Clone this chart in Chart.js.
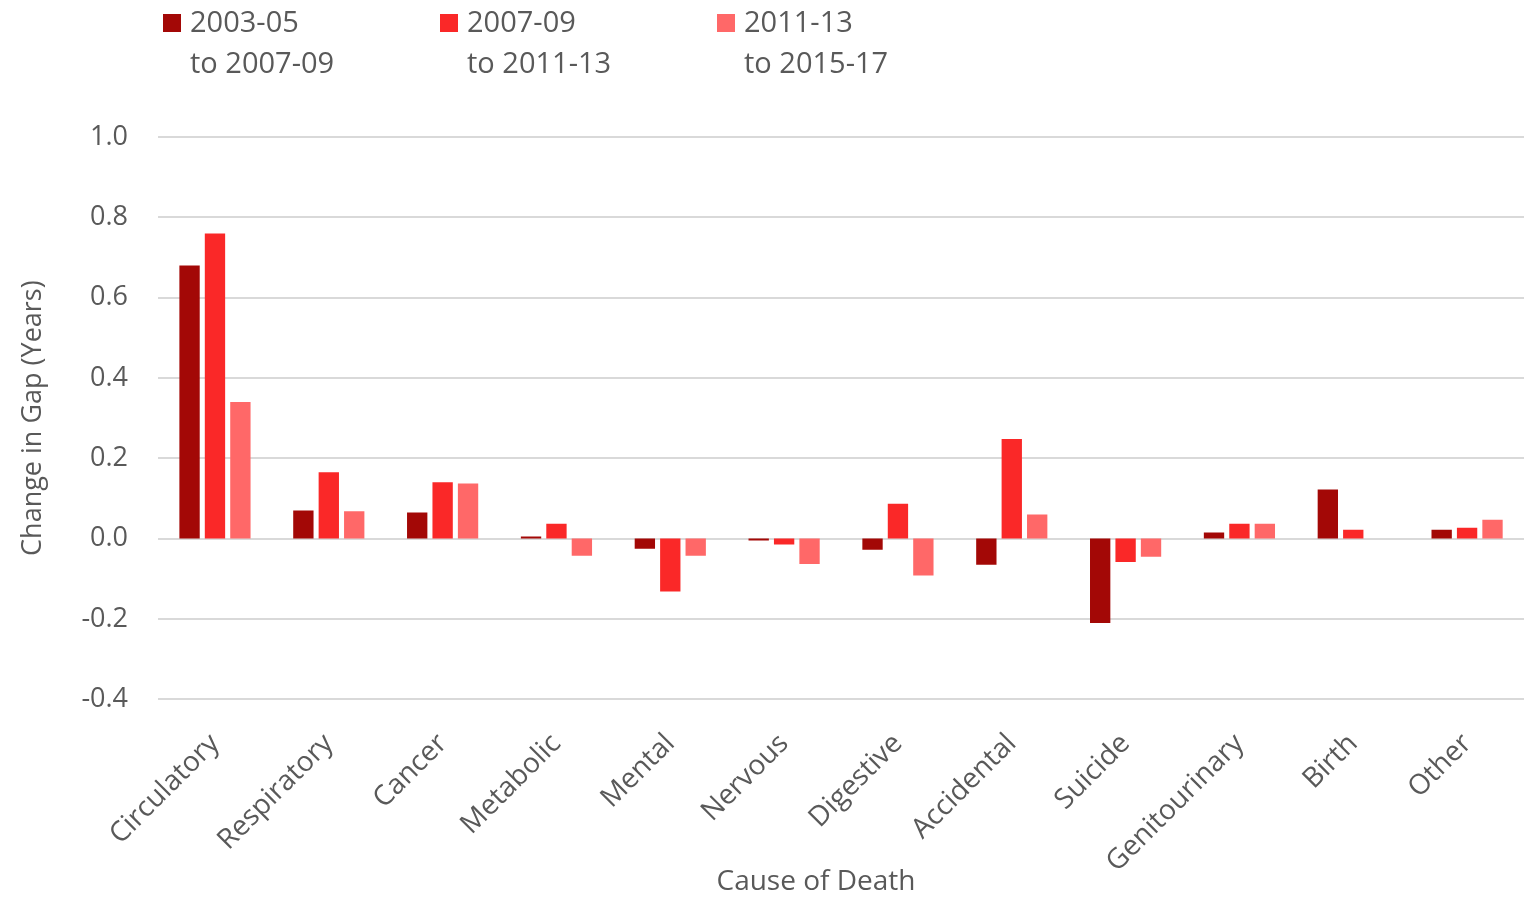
<!DOCTYPE html>
<html>
<head>
<meta charset="utf-8">
<script src="https://cdn.jsdelivr.net/npm/chart.js@4"></script>
<style>
  html, body { margin: 0; padding: 0; background: #fff; }
  #wrap { position: relative; width: 1524px; height: 899px; }
  #legend { position: absolute; top: 0px; left: 163px; font-family: "Open Sans", sans-serif; font-size: 29px; color: #595959; line-height: 41px; }
  .item { position: absolute; top: 0; white-space: nowrap; }
  .sw { display: inline-block; width: 18px; height: 18px; margin-right: 9px; vertical-align: 0px; }
  .l2 { padding-left: 27px; }
  #xtitle { position: absolute; left: 0; width: 1632px; top: 860px; text-align: center; font-family: "Open Sans", sans-serif; font-size: 28px; color: #595959; }
</style>
</head>
<body>
<div id="wrap">
  <canvas id="gapChart" width="1524" height="899"></canvas>
  <div id="legend"></div>
  <div id="xtitle">Cause of Death</div>
</div>
<script>
// Data
const categories = ['Circulatory', 'Respiratory', 'Cancer', 'Metabolic', 'Mental', 'Nervous',
                    'Digestive', 'Accidental', 'Suicide', 'Genitourinary', 'Birth', 'Other'];
const period1 = [0.68, 0.07, 0.065, 0.005, -0.025, -0.005, -0.028, -0.065, -0.21, 0.015, 0.122, 0.022];
const period2 = [0.76, 0.165, 0.14, 0.037, -0.132, -0.015, 0.087, 0.248, -0.058, 0.037, 0.022, 0.027];
const period3 = [0.34, 0.068, 0.137, -0.043, -0.043, -0.063, -0.092, 0.06, -0.045, 0.037, 0, 0.047];
const seriesLabels = [['2003-05', 'to 2007-09'], ['2007-09', 'to 2011-13'], ['2011-13', 'to 2015-17']];
const colors = ['#a30806', '#fa2828', '#ff6868'];

const textColor = '#595959';
const font = 'Open Sans';

// Legend (two-line labels)
const legend = document.getElementById('legend');
seriesLabels.forEach((lbl, i) => {
    const div = document.createElement('div');
    div.className = 'item';
    div.style.left = (i * 277) + 'px';
    div.innerHTML = `<div><span class="sw" style="background:${colors[i]}"></span>${lbl[0]}</div>` +
                    `<div class="l2">${lbl[1]}</div>`;
    legend.appendChild(div);
});

const ctx = document.getElementById('gapChart').getContext('2d');
new Chart(ctx, {
    type: 'bar',
    data: {
        labels: categories,
        datasets: [period1, period2, period3].map((d, i) => ({
            label: seriesLabels[i].join(' '),
            data: d,
            backgroundColor: colors[i],
            categoryPercentage: 0.67,
            barPercentage: 0.8
        }))
    },
    options: {
        responsive: false,
        animation: false,
        layout: { padding: { top: 137, right: 0, left: 17, bottom: 0 } },
        plugins: {
            legend: { display: false },
            tooltip: { enabled: false }
        },
        scales: {
            x: {
                grid: { display: false },
                border: { display: false },
                ticks: {
                    color: textColor,
                    font: { family: font, size: 28 },
                    maxRotation: 45,
                    minRotation: 45,
                    padding: 20
                }
            },
            y: {
                min: -0.4,
                max: 1.0,
                border: { display: false },
                grid: { color: '#d9d9d9', lineWidth: 2, drawTicks: false },
                ticks: {
                    stepSize: 0.2,
                    color: textColor,
                    font: { family: font, size: 27 },
                    padding: 30,
                    callback: v => Math.abs(v) < 1e-9 ? '0.0' : v.toFixed(1)
                },
                title: {
                    display: true,
                    text: 'Change in Gap (Years)',
                    color: textColor,
                    font: { family: font, size: 27 },
                    padding: { top: 0, bottom: 2 }
                }
            }
        }
    }
});
</script>
</body>
</html>
